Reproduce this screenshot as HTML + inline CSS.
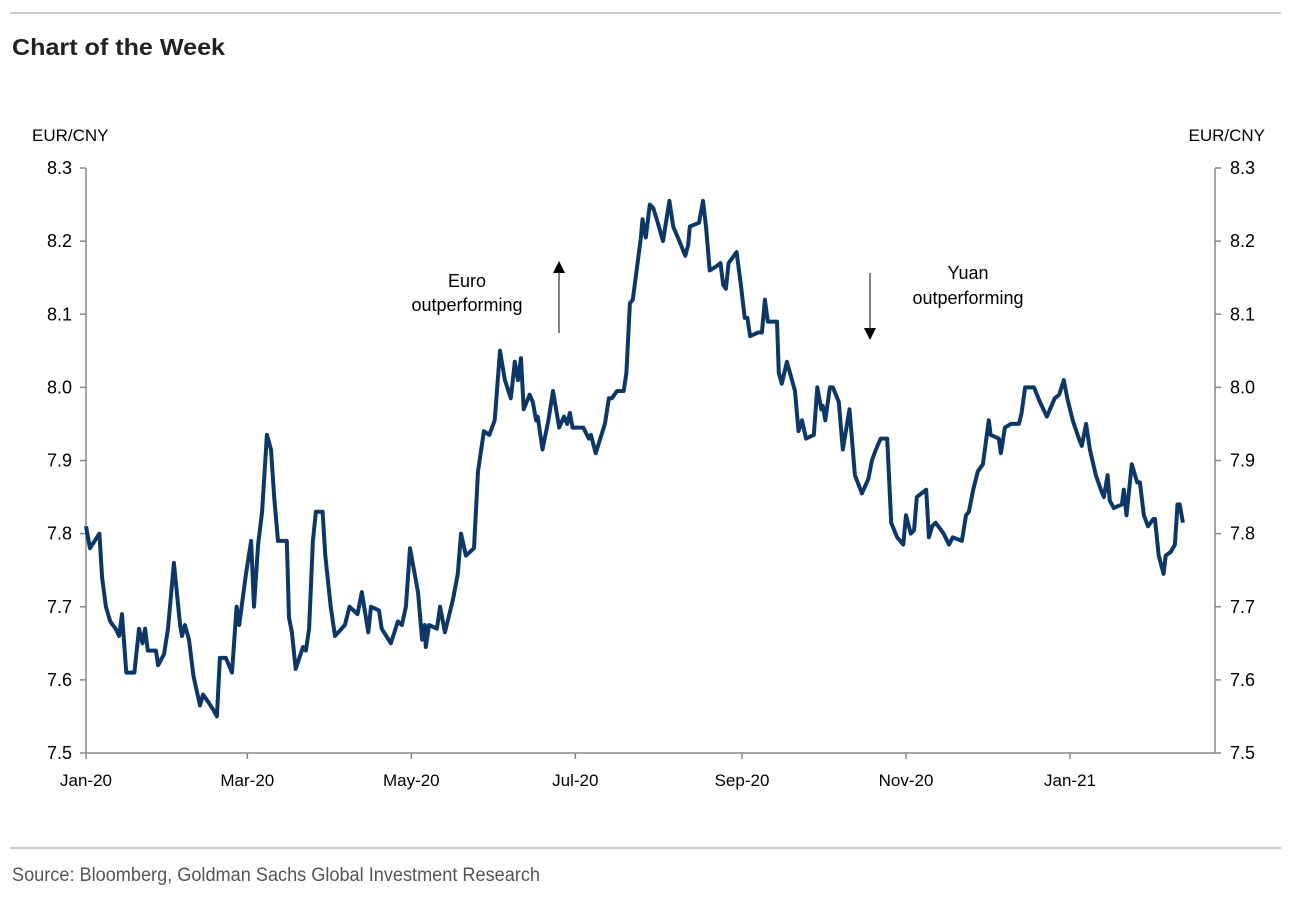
<!DOCTYPE html>
<html><head><meta charset="utf-8"><style>
body{margin:0;background:#fff;width:1291px;height:899px;overflow:hidden;font-family:"Liberation Sans",Arial,sans-serif}
</style></head><body>
<svg width="1291" height="899" xmlns="http://www.w3.org/2000/svg">
<line x1="10" y1="13" x2="1281" y2="13" stroke="#999" stroke-width="1"/>
<text x="12" y="55" font-weight="bold" font-size="23" fill="#222" textLength="213" lengthAdjust="spacingAndGlyphs">Chart of the Week</text>
<text x="32" y="141" font-size="17" fill="#000">EUR/CNY</text>
<text x="1265" y="141" font-size="17" fill="#000" text-anchor="end">EUR/CNY</text>
<g id="axes"></g>
<path id="line" fill="none" stroke="#0d3766" stroke-width="4" stroke-linejoin="round"/>
<text x="467" y="287" font-size="18" text-anchor="middle">Euro</text>
<text x="467" y="311" font-size="18" text-anchor="middle">outperforming</text>
<line x1="559" y1="333" x2="559" y2="270" stroke="#000" stroke-width="1"/>
<polygon points="553,273 565,273 559,261" fill="#000"/>
<text x="968" y="279" font-size="18" text-anchor="middle">Yuan</text>
<text x="968" y="304" font-size="18" text-anchor="middle">outperforming</text>
<line x1="870" y1="273" x2="870" y2="332" stroke="#000" stroke-width="1"/>
<polygon points="864,328 876,328 870,340" fill="#000"/>
<line x1="10" y1="848" x2="1281" y2="848" stroke="#999" stroke-width="1"/>
<text x="12" y="881" font-size="19" fill="#555" textLength="528" lengthAdjust="spacingAndGlyphs">Source: Bloomberg, Goldman Sachs Global Investment Research</text>
</svg>
<script>
const yTicks=[7.5,7.6,7.7,7.8,7.9,8.0,8.1,8.2,8.3];
const xTickLabels=["Jan-20","Mar-20","May-20","Jul-20","Sep-20","Nov-20","Jan-21"];
const xTickDays=[0,60,121,182,244,305,366];
const days=[0,1.5,5,6,7.4,9,11,12.3,13.4,15,18,19.7,21,22,23,26,26.8,29,30.5,32.7,35,35.7,36.8,38.3,40,42.4,43.5,45.4,47.2,48.7,49.8,52,54.3,56,57,59.5,61.4,62.5,64,65.5,67.3,68.8,70,71.4,74.7,75.5,76.6,78,80.7,81.8,83,84.4,85.5,88,89,91,92.6,96.3,98,101,102.6,105,106,109,110,113.4,116,117.5,119,120.5,123.5,125,126,126.4,127.6,130.5,131.7,133.5,136.5,138.3,139.5,141.3,144.3,145.8,148,150,152,154,155.8,158,159.5,160.7,161.8,162.8,165,166.2,167.4,168,169.8,172,173.7,176,177.8,179,180,181,183,185,187,187.8,189.6,193,194.5,195.6,197.5,200,201,202.3,203.4,205,206.4,207,208.2,209.7,211,212.7,214.6,217,218.4,220.7,222.9,224,224.6,228,229.5,230.6,232,234.3,236,237,238,239,242,243.6,245,246,247,250,251.4,252.5,253.6,257,257.7,258.8,260.7,263.7,265,266.3,267.8,270.7,272,273.5,274,275,276.7,277.8,280,281.5,284,286,288.6,291,292.3,293.8,295.6,298,299.5,301.7,304,305,306.8,308,309,312.5,313.5,314.7,316,319,321,322.4,325.8,327.3,328.4,330,331.7,333.6,335.8,336.5,339.5,340.3,341.8,344,347,348,349.3,352.6,354.8,357.4,360.3,362,363.7,365,367,369.3,370.4,372,373.4,375.6,377.5,378.6,380,380.8,382.3,385.3,386,387,389,391,392,393.5,395,397,397.6,399,400.8,401.6,403.5,405,406,406.8,408];
const values=[7.81,7.78,7.80,7.74,7.70,7.68,7.67,7.66,7.69,7.61,7.61,7.67,7.65,7.67,7.64,7.64,7.62,7.635,7.67,7.76,7.675,7.66,7.675,7.655,7.605,7.565,7.58,7.57,7.56,7.55,7.63,7.63,7.61,7.70,7.675,7.745,7.79,7.70,7.785,7.83,7.935,7.915,7.85,7.79,7.79,7.685,7.665,7.615,7.645,7.64,7.67,7.79,7.83,7.83,7.77,7.70,7.66,7.675,7.70,7.69,7.72,7.665,7.70,7.695,7.67,7.65,7.68,7.675,7.70,7.78,7.72,7.655,7.675,7.645,7.675,7.67,7.70,7.665,7.71,7.745,7.80,7.77,7.78,7.885,7.94,7.935,7.955,8.05,8.01,7.985,8.035,8.01,8.04,7.97,7.99,7.98,7.955,7.96,7.915,7.955,7.995,7.945,7.96,7.95,7.965,7.945,7.945,7.945,7.93,7.935,7.91,7.95,7.985,7.985,7.995,7.995,8.02,8.115,8.12,8.165,8.205,8.23,8.205,8.25,8.245,8.225,8.20,8.255,8.22,8.20,8.18,8.195,8.22,8.225,8.255,8.22,8.16,8.165,8.17,8.14,8.135,8.17,8.185,8.14,8.095,8.095,8.07,8.075,8.075,8.12,8.09,8.09,8.02,8.005,8.035,7.995,7.94,7.955,7.93,7.935,8.00,7.97,7.975,7.955,8.00,8.00,7.98,7.915,7.97,7.88,7.855,7.875,7.90,7.915,7.93,7.93,7.815,7.795,7.785,7.825,7.80,7.805,7.85,7.86,7.795,7.81,7.815,7.80,7.785,7.795,7.79,7.825,7.83,7.86,7.885,7.895,7.955,7.935,7.93,7.91,7.945,7.95,7.95,7.965,8.00,8.00,7.98,7.96,7.985,7.99,8.01,7.985,7.955,7.93,7.92,7.95,7.915,7.88,7.86,7.85,7.88,7.845,7.835,7.84,7.86,7.825,7.895,7.87,7.87,7.825,7.81,7.82,7.82,7.77,7.745,7.77,7.775,7.785,7.84,7.84,7.815];
const X0=86,X1=1215,DAYPX=(1070-86)/366,YTOP=168,YBOT=753;
function xs(d){return X0+d*DAYPX;}
function ys(v){return YBOT-(v-7.5)/(0.8)*(YBOT-YTOP);}
const NS="http://www.w3.org/2000/svg";
const g=document.getElementById('axes');
function mk(tag,attrs){const e=document.createElementNS(NS,tag);for(const k in attrs)e.setAttribute(k,attrs[k]);g.appendChild(e);return e;}
let e=mk('line',{x1:X0,y1:YTOP,x2:X0,y2:YBOT,stroke:'#888','stroke-width':1.5});


e=mk('line',{x1:X1,y1:YTOP,x2:X1,y2:YBOT,stroke:'#888','stroke-width':1.5});


e=mk('line',{x1:X0,y1:YBOT,x2:X1,y2:YBOT,stroke:'#888','stroke-width':1.5});


yTicks.forEach(v=>{const y=ys(v);
 let t=mk('line',{x1:X0-6,y1:y,x2:X0,y2:y,stroke:'#888','stroke-width':1.5});
 
 
 t=mk('line',{x1:X1,y1:y,x2:X1+6,y2:y,stroke:'#888','stroke-width':1.5});
 
 
 let l=mk('text',{x:72,y:y+6,'font-size':18,'text-anchor':'end'});l.textContent=v.toFixed(1);
 
 
 l=mk('text',{x:1230,y:y+6,'font-size':18});l.textContent=v.toFixed(1);
 
 
});
xTickDays.forEach((d,i)=>{const x=xs(d);
 let t=mk('line',{x1:x,y1:YBOT,x2:x,y2:YBOT+6,stroke:'#888','stroke-width':1.5});
 
 
 let l=mk('text',{x:x,y:YBOT+33,'font-size':17,'text-anchor':'middle'});l.textContent=xTickLabels[i];
 
 
});
document.getElementById('line').setAttribute('d',days.map((d,i)=>(i?'L':'M')+xs(d).toFixed(1)+','+ys(values[i]).toFixed(1)).join(''));
</script>
</body></html>
